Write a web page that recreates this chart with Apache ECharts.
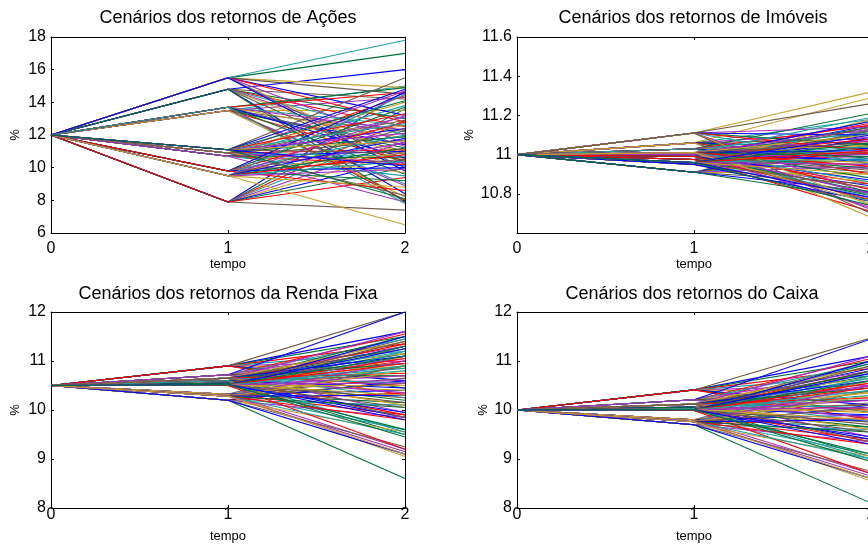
<!DOCTYPE html>
<html><head><meta charset="utf-8">
<script src="https://cdn.jsdelivr.net/npm/echarts@6/dist/echarts.min.js"></script>
<style>html,body{margin:0;padding:0;background:#fff}#c{width:868px;height:546px}</style>
</head><body><div id="c"></div>
<script>
// ---- data ----
const timeSteps = [0, 1, 2];
const xTickLabels = ['0', '1', '2'];
const panelTitles = [
  'Cenários dos retornos de Ações',
  'Cenários dos retornos de Imóveis',
  'Cenários dos retornos da Renda Fixa',
  'Cenários dos retornos do Caixa'
];
const xAxisTitle = 'tempo';
const yAxisTitle = '%';

// Ações (stage-1 nodes; each row of T2 = the 10 stage-2 outcomes of that node)
const acoesT0 = 12;
const acoesT1 = [7.9, 13.5, 14.8, 10.7, 15.5, 13.7, 10.9, 9.8, 9.5, 11.1];
const acoesT2 = [
  [14.7, 13.6, 12.9, 12.3, 11.6, 11.0, 7.4, 10.5, 10.0, 9.4],
  [15.0, 14.3, 13.5, 12.2, 11.4, 11.2, 10.4, 9.0, 8.9, 8.2],
  [14.2, 16.0, 13.0, 12.5, 12.0, 11.3, 10.8, 10.0, 8.4, 7.9],
  [14.4, 13.8, 13.1, 12.6, 11.7, 11.0, 10.6, 10.2, 9.5, 7.9],
  [14.9, 14.5, 13.2, 17.0, 12.8, 17.8, 11.5, 10.5, 10.2, 9.8],
  [14.9, 14.6, 12.6, 12.3, 11.8, 11.0, 10.6, 9.6, 8.0, 7.8],
  [14.7, 14.0, 12.9, 12.4, 11.9, 11.1, 10.7, 10.3, 9.7, 8.3],
  [14.6, 13.7, 12.8, 12.0, 11.5, 10.9, 10.5, 10.0, 9.2, 8.6],
  [14.5, 13.2, 6.5, 12.4, 11.8, 11.2, 10.8, 10.4, 9.9, 8.8],
  [15.5, 14.8, 14.1, 13.3, 12.7, 12.1, 11.6, 10.9, 10.1, 8.1]
];

// Imóveis
const imoveisT0 = 11;
const imoveisT1 = [10.975, 11.06, 10.91, 11.0, 10.95, 11.03, 11.11, 10.99, 11.01, 10.96];
const imoveisT2 = [
  [11.15, 11.11, 11.07, 11.03, 10.99, 10.95, 10.91, 10.84, 10.79, 10.71],
  [11.18, 11.12, 11.29, 11.08, 11.03, 10.98, 10.90, 10.79, 10.72, 10.68],
  [11.13, 11.09, 11.05, 11.01, 10.98, 10.94, 10.90, 10.85, 10.81, 10.77],
  [11.16, 11.12, 11.09, 11.05, 11.01, 10.97, 10.93, 10.85, 10.78, 10.73],
  [11.18, 11.12, 11.08, 11.04, 11.01, 10.97, 10.93, 10.86, 10.80, 10.76],
  [11.21, 11.15, 11.11, 11.07, 11.04, 11.00, 10.96, 10.88, 10.82, 10.76],
  [11.14, 11.32, 11.26, 11.10, 11.05, 11.02, 10.95, 10.80, 10.74, 10.70],
  [11.17, 11.14, 11.08, 11.04, 11.00, 10.96, 10.92, 10.87, 10.81, 10.77],
  [11.19, 11.13, 11.10, 11.06, 11.02, 10.99, 10.94, 10.86, 10.80, 10.75],
  [11.14, 11.10, 11.06, 11.02, 10.98, 10.95, 10.90, 10.83, 10.78, 10.74]
];

// Renda Fixa
const rendaFixaT0 = 10.5;
const rendaFixaT1 = [10.90, 10.32, 10.55, 10.72, 10.20, 10.60, 10.65, 10.50, 10.28, 10.52];
const rendaFixaT2 = [
  [11.6, 11.5, 11.35, 11.2, 11.0, 10.85, 12.0, 10.6, 10.45, 10.3],
  [11.3, 11.1, 10.9, 10.65, 10.4, 10.15, 9.9, 9.6, 9.2, 9.05],
  [11.45, 11.3, 11.15, 11.0, 10.85, 10.6, 10.4, 10.15, 9.85, 9.5],
  [11.55, 11.45, 11.3, 11.15, 10.95, 12.0, 10.7, 10.5, 10.25, 9.95],
  [11.1, 10.9, 10.6, 8.6, 10.35, 10.1, 9.85, 9.55, 9.25, 9.1],
  [11.5, 11.35, 11.2, 11.05, 10.9, 10.7, 10.45, 10.2, 9.9, 9.55],
  [11.6, 11.4, 11.25, 11.1, 10.95, 10.75, 10.55, 10.35, 10.1, 9.85],
  [11.5, 11.3, 11.05, 10.9, 10.7, 10.5, 10.25, 9.95, 9.6, 9.2],
  [11.2, 11.0, 10.8, 10.55, 10.3, 10.05, 9.8, 9.5, 9.15, 9.1],
  [11.4, 11.25, 11.1, 10.95, 10.8, 10.55, 10.3, 10.05, 9.8, 9.45]
];

// Caixa
const caixaT0 = 10;
const caixaT1 = [10.41, 9.80, 10.06, 10.21, 9.70, 10.03, 10.12, 9.99, 9.76, 10.01];
const caixaT2 = [
  [11.1, 11.0, 10.85, 10.7, 10.5, 10.35, 11.47, 10.1, 9.95, 9.8],
  [10.8, 10.6, 10.4, 10.15, 9.9, 9.65, 9.4, 9.1, 8.7, 8.55],
  [11.0, 10.85, 10.7, 10.55, 10.4, 10.2, 9.95, 9.7, 9.4, 9.05],
  [11.05, 10.95, 10.8, 10.65, 10.45, 11.45, 10.2, 10.0, 9.75, 9.45],
  [10.6, 10.4, 10.1, 8.1, 9.85, 9.6, 9.35, 9.05, 8.75, 8.6],
  [10.95, 10.8, 10.65, 10.5, 10.35, 10.1, 9.9, 9.65, 9.35, 9.0],
  [11.1, 10.9, 10.75, 10.6, 10.45, 10.25, 10.05, 9.85, 9.6, 9.35],
  [11.0, 10.8, 10.55, 10.4, 10.2, 10.0, 9.75, 9.45, 9.1, 8.7],
  [10.7, 10.5, 10.3, 10.05, 9.8, 9.55, 9.3, 9.0, 8.65, 8.6],
  [10.9, 10.75, 10.6, 10.45, 10.3, 10.05, 9.8, 9.55, 9.3, 8.95]
];

// axis scales (y)
const yMins = [6, 10.6, 8, 8];
const yMaxs = [18, 11.6, 12, 12];
const ySteps = [2, 0.2, 1, 1];

const lineColors = ['#0000ff', '#00703c', '#ff0000', '#1fa0a0', '#a52ec0', '#c8a02c', '#6e5a4a'];

// ---- layout ----
const FONT = 'Liberation Sans, Arial, sans-serif';
const grids = [
  {left: 51, top: 37, width: 354, height: 196, outerBoundsMode: 'none', containLabel: false},
  {left: 517, top: 37, width: 354, height: 196, outerBoundsMode: 'none', containLabel: false},
  {left: 51, top: 312, width: 354, height: 196, outerBoundsMode: 'none', containLabel: false},
  {left: 517, top: 312, width: 354, height: 196, outerBoundsMode: 'none', containLabel: false}
];
const xLabelMargins = [8, 8, -1, -1];
const yNameGaps = [36, 48, 36, 34];
const titlePos = [[228, 18.5], [693, 18.5], [228, 294.5], [692, 294]];

const panels = [
  {t0: acoesT0, t1: acoesT1, t2: acoesT2},
  {t0: imoveisT0, t1: imoveisT1, t2: imoveisT2},
  {t0: rendaFixaT0, t1: rendaFixaT1, t2: rendaFixaT2},
  {t0: caixaT0, t1: caixaT1, t2: caixaT2}
];

const axisLine = {show: true, onZero: false, lineStyle: {color: '#000', width: 1}};
const xAxes = [], yAxes = [], series = [], graphics = [];
panels.forEach((p, pi) => {
  xAxes.push({
    type: 'value', gridIndex: pi, position: 'bottom', min: 0, max: 2, interval: 1,
    axisLine, axisTick: {inside: true, length: 3, lineStyle: {color: '#000'}},
    splitLine: {show: false},
    axisLabel: {color: '#000', fontFamily: FONT, fontSize: 16, margin: xLabelMargins[pi],
      formatter: v => xTickLabels[timeSteps.indexOf(v)] ?? ''},
    name: xAxisTitle, nameLocation: 'middle', nameGap: 28,
    nameTextStyle: {color: '#000', fontFamily: FONT, fontSize: 13, verticalAlign: 'middle'}
  });
  xAxes.push({
    type: 'value', gridIndex: pi, position: 'top', min: 0, max: 2, interval: 1,
    axisLine, axisTick: {inside: true, length: 3, lineStyle: {color: '#000'}},
    splitLine: {show: false}, axisLabel: {show: false}
  });
  yAxes.push({
    type: 'value', gridIndex: pi, position: 'left', min: yMins[pi], max: yMaxs[pi], interval: ySteps[pi],
    axisLine, axisTick: {inside: true, length: 3, lineStyle: {color: '#000'}},
    splitLine: {show: false},
    axisLabel: {color: '#000', fontFamily: FONT, fontSize: 16, margin: 5, showMinLabel: pi !== 1},
    name: yAxisTitle, nameLocation: 'middle', nameGap: yNameGaps[pi],
    nameTextStyle: {color: '#000', fontFamily: FONT, fontSize: 13, verticalAlign: 'middle'}
  });
  yAxes.push({
    type: 'value', gridIndex: pi, position: 'right', min: yMins[pi], max: yMaxs[pi], interval: ySteps[pi],
    axisLine, axisTick: {inside: true, length: 3, lineStyle: {color: '#000'}},
    splitLine: {show: false}, axisLabel: {show: false}
  });
  let k = 0;
  p.t1.forEach((v1, j) => {
    p.t2[j].forEach(v2 => {
      series.push({
        type: 'line', xAxisIndex: 2 * pi, yAxisIndex: 2 * pi,
        data: [[timeSteps[0], p.t0], [timeSteps[1], v1], [timeSteps[2], v2]],
        symbol: 'none', silent: true, animation: false,
        lineStyle: {color: lineColors[k % lineColors.length], width: 1.1},
        itemStyle: {color: lineColors[k % lineColors.length]}
      });
      k++;
    });
  });
  graphics.push({
    type: 'text', x: titlePos[pi][0], y: titlePos[pi][1], silent: true,
    style: {text: panelTitles[pi], fill: '#000', font: '18px ' + FONT, textAlign: 'center', textVerticalAlign: 'middle'}
  });
});

const chart = echarts.init(document.getElementById('c'), null, {renderer: 'canvas'});
chart.setOption({
  animation: false,
  backgroundColor: '#fff',
  grid: grids,
  xAxis: xAxes,
  yAxis: yAxes,
  series,
  graphic: graphics
});
</script>
</body></html>
